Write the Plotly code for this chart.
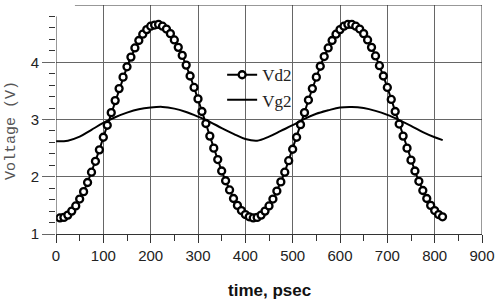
import plotly.graph_objects as go

# ---- data ----
vd2_time = [round(8.333 * k, 1) for k in range(1, 99)]
vd2_volt = [1.28, 1.29, 1.33, 1.40, 1.49, 1.61, 1.74, 1.90, 2.08, 2.27,
            2.47, 2.69, 2.90, 3.12, 3.33, 3.54, 3.74, 3.92, 4.09, 4.25,
            4.38, 4.49, 4.57, 4.63, 4.65, 4.66, 4.63, 4.58, 4.50, 4.39,
            4.26, 4.12, 3.95, 3.76, 3.56, 3.36, 3.14, 2.93, 2.71, 2.50,
            2.30, 2.10, 1.93, 1.77, 1.62, 1.50, 1.41, 1.34, 1.30, 1.28,
            1.29, 1.33, 1.40, 1.49, 1.61, 1.75, 1.91, 2.08, 2.28, 2.48,
            2.69, 2.91, 3.12, 3.34, 3.54, 3.74, 3.93, 4.10, 4.25, 4.38,
            4.49, 4.57, 4.63, 4.66, 4.66, 4.63, 4.58, 4.50, 4.39, 4.26,
            4.11, 3.94, 3.76, 3.56, 3.35, 3.14, 2.92, 2.71, 2.50, 2.29,
            2.10, 1.92, 1.76, 1.62, 1.50, 1.41, 1.34, 1.30]

vg2_time = [0, 25, 50, 75, 100, 125, 150, 175, 200, 225, 250, 275, 300, 325,
            350, 375, 400, 425, 450, 475, 500, 525, 550, 575, 600, 625, 650,
            675, 700, 725, 750, 775, 800, 817]
vg2_volt = [2.62, 2.63, 2.70, 2.82, 2.94, 3.04, 3.12, 3.18, 3.21, 3.22, 3.19,
            3.13, 3.05, 2.96, 2.85, 2.75, 2.66, 2.63, 2.70, 2.80, 2.90, 3.01,
            3.10, 3.16, 3.21, 3.22, 3.20, 3.15, 3.08, 2.99, 2.89, 2.78, 2.69,
            2.64]

x_ticks = [0, 100, 200, 300, 400, 500, 600, 700, 800, 900]
y_ticks = [1, 2, 3, 4]
y_minor = [1.2, 1.4, 1.6, 1.8, 2.2, 2.4, 2.6, 2.8, 3.2, 3.4, 3.6, 3.8,
           4.2, 4.4, 4.6, 4.8]

fig = go.Figure()
fig.add_trace(go.Scatter(
    x=vd2_time, y=vd2_volt, name="Vd2", mode="lines+markers",
    line=dict(color="black", width=2),
    marker=dict(symbol="circle", size=7, color="white",
                line=dict(color="black", width=2.3)),
))
fig.add_trace(go.Scatter(
    x=vg2_time, y=vg2_volt, name="Vg2", mode="lines",
    line=dict(color="black", width=2, shape="spline"),
))

axis_col = "#333333"
grid_col = "#666666"
tick_font = dict(family="Liberation Sans, Arial, sans-serif", size=15, color="#222222")

fig.update_xaxes(
    range=[0, 900], tickvals=x_ticks, ticks="outside", ticklen=8,
    tickcolor=axis_col, tickwidth=1, showline=True, linecolor=axis_col,
    linewidth=1, showgrid=True, gridcolor=grid_col, gridwidth=1,
    zeroline=False, tickfont=tick_font,
    minor=dict(dtick=50, ticks="outside", ticklen=6, tickcolor=axis_col,
               showgrid=False),
)
fig.update_yaxes(
    range=[1, 5], tickvals=y_ticks, ticks="outside", ticklen=13,
    tickcolor=grid_col, tickwidth=1, showline=False,
    showgrid=True, gridcolor=grid_col, gridwidth=1,
    zeroline=False, tickfont=tick_font,
    minor=dict(tickvals=y_minor, ticks="outside", ticklen=6,
               tickcolor=axis_col, showgrid=False),
)

# frame lines
fig.add_shape(type="line", xref="x", yref="y", x0=0, x1=0, y0=1, y1=4.8,
              line=dict(color=axis_col, width=1))
fig.add_shape(type="line", xref="x", yref="y", x0=40, x1=900, y0=5, y1=5,
              line=dict(color=axis_col, width=1))
fig.add_shape(type="line", xref="x", yref="y", x0=900, x1=900, y0=1, y1=5,
              line=dict(color=axis_col, width=1))

fig.add_annotation(text="Voltage (V)", xref="paper", yref="paper",
                   x=-0.103, y=0.45, textangle=-90, showarrow=False,
                   xanchor="center", yanchor="middle",
                   font=dict(family="Liberation Mono, monospace",
                             size=15, color="#555555"))
fig.add_annotation(text="<b>time, psec</b>", xref="paper", yref="paper",
                   x=0.5, y=-0.248, showarrow=False,
                   xanchor="center", yanchor="middle",
                   font=dict(family="Liberation Sans, Arial, sans-serif",
                             size=17, color="#111111"))

fig.update_layout(
    width=500, height=304,
    margin=dict(l=56, r=18, t=4.5, b=70),
    paper_bgcolor="white", plot_bgcolor="white",
    showlegend=True,
    legend=dict(x=0.39, y=0.772, xanchor="left", yanchor="top",
                bgcolor="rgba(0,0,0,0)", borderwidth=0,
                font=dict(family="Liberation Serif, Times New Roman, serif",
                          size=17, color="#222222"),
                tracegroupgap=0),
)

fig.write_html("out.html")
